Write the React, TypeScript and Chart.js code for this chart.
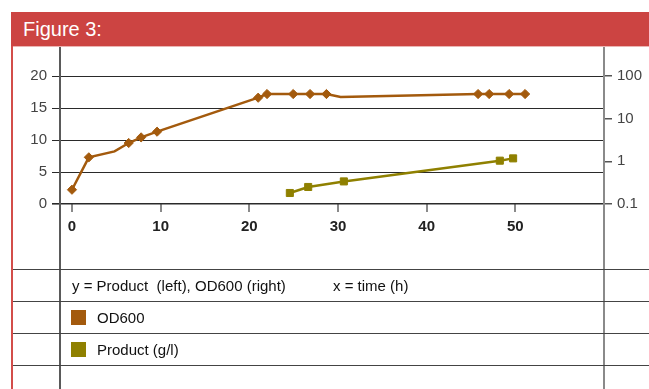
import React, { useEffect, useRef } from 'react';
import { Chart, registerables } from 'chart.js';

Chart.register(...registerables);

// ---- data ----
const odTime = [0, 1.9, 4.8, 6.4, 7.8, 9.6, 21.0, 22.0, 24.95, 26.85, 28.7, 30.3, 45.8, 47.05, 49.3, 51.1];
const odValue = [0.216, 1.24, 1.71, 2.69, 3.64, 4.95, 31.0, 37.8, 37.8, 37.8, 37.8, 32.2, 37.8, 37.8, 37.8, 37.8];
const odMarked = [1, 1, 0, 1, 1, 1, 1, 1, 1, 1, 1, 0, 1, 1, 1, 1];

const productTime = [24.57, 26.64, 30.66, 48.25, 49.75];
const productValue = [1.72, 2.66, 3.53, 6.77, 7.13];

const xTicks = [0, 10, 20, 30, 40, 50];
const leftTicks = [0, 5, 10, 15, 20];
const rightTicks = [0.1, 1, 10, 100];

const titleText = 'Figure 3:';
const axisNote = 'y = Product  (left), OD600 (right)';
const xNote = 'x = time (h)';
const seriesNames = ['OD600', 'Product (g/l)'];

const OD_COLOR = '#A35A0D';
const PRODUCT_COLOR = '#8F8000';
const FONT = '"Liberation Sans", Arial, Helvetica, sans-serif';

export default function App() {
  const canvasRef = useRef<HTMLCanvasElement | null>(null);

  useEffect(() => {
    const canvas = canvasRef.current;
    if (!canvas) return;
    const chart = new Chart(canvas, {
      type: 'line',
      data: {
        datasets: [
          {
            label: seriesNames[0],
            data: odTime.map((t, i) => ({ x: t, y: odValue[i] })),
            yAxisID: 'y2',
            borderColor: OD_COLOR,
            backgroundColor: OD_COLOR,
            borderWidth: 2.5,
            pointStyle: 'rectRot',
            pointRadius: odMarked.map((m) => (m ? 4.6 : 0)),
            pointBorderWidth: 1,
            pointBorderColor: OD_COLOR,
            pointBackgroundColor: OD_COLOR,
            tension: 0,
          },
          {
            label: seriesNames[1],
            data: productTime.map((t, i) => ({ x: t, y: productValue[i] })),
            yAxisID: 'y',
            borderColor: PRODUCT_COLOR,
            backgroundColor: PRODUCT_COLOR,
            borderWidth: 2.5,
            pointStyle: 'rect',
            pointRadius: 5,
            pointBorderWidth: 1,
            pointBorderColor: PRODUCT_COLOR,
            pointBackgroundColor: PRODUCT_COLOR,
            tension: 0,
          },
        ],
      },
      options: {
        responsive: false,
        animation: false,
        layout: { padding: { top: 30, left: 0, right: 0, bottom: 0 } },
        plugins: { legend: { display: false }, tooltip: { enabled: false } },
        scales: {
          x: {
            type: 'linear',
            min: -1.35,
            max: 60,
            afterBuildTicks: (s: any) => {
              s.ticks = xTicks.map((v) => ({ value: v }));
            },
            afterFit: (s: any) => {
              s.height = 64;
            },
            grid: { drawOnChartArea: false, drawTicks: true, tickLength: 8, color: '#8a8a8a', lineWidth: 2 },
            border: { display: false },
            ticks: {
              padding: 6,
              color: '#222',
              autoSkip: false,
              maxRotation: 0,
              font: { family: FONT, size: 15, weight: 'bold' },
            },
          },
          y: {
            type: 'linear',
            position: 'left',
            min: 0,
            max: 20,
            afterBuildTicks: (s: any) => {
              s.ticks = leftTicks.map((v) => ({ value: v }));
            },
            afterFit: (s: any) => {
              s.width = 60;
            },
            grid: {
              color: '#2a2a2a',
              lineWidth: (ctx: any) => (ctx.tick && ctx.tick.value === 0 ? 1.6 : 1),
              tickLength: 8,
            },
            border: { display: false },
            ticks: { padding: 5, color: '#444', font: { family: FONT, size: 15 } },
          },
          y2: {
            type: 'logarithmic',
            position: 'right',
            min: 0.1,
            max: 100,
            afterBuildTicks: (s: any) => {
              s.ticks = rightTicks.map((v) => ({ value: v }));
            },
            afterFit: (s: any) => {
              s.width = 45;
            },
            grid: { drawOnChartArea: false, tickLength: 8, color: '#555', lineWidth: 1.5 },
            border: { display: false },
            ticks: {
              padding: 5,
              color: '#444',
              font: { family: FONT, size: 15 },
              callback: (v: any) => String(Number(v)),
            },
          },
        },
      },
    } as any);
    return () => chart.destroy();
  }, []);

  const abs = (s: React.CSSProperties): React.CSSProperties => ({ position: 'absolute', ...s });
  const rowLines = [269, 301, 333, 365];

  return (
    <div style={abs({ left: 0, top: 0, width: 649, height: 389, overflow: 'hidden', background: '#fff', fontFamily: FONT })}>
      <div style={abs({ left: 11, top: 12, width: 638, height: 34, background: '#CC4442' })} />
      <span style={abs({ left: 23, top: 19, fontSize: 20, lineHeight: '20px', color: '#fff', whiteSpace: 'pre' })}>{titleText}</span>
      <div style={abs({ left: 11, top: 46, width: 638, height: 1, background: '#EBB5B3' })} />
      <canvas ref={canvasRef} width={649} height={222} style={abs({ left: 0, top: 46, width: 649, height: 222, display: 'block' })} />
      <div style={abs({ left: 11, top: 46, width: 2, height: 343, background: '#D34D4A' })} />
      <div style={abs({ left: 59, top: 47, width: 2, height: 342, background: '#5a5a5a' })} />
      <div style={abs({ left: 603, top: 47, width: 2, height: 342, background: '#8a8a8a' })} />
      {rowLines.map((y) => (
        <div key={y} style={abs({ left: 13, top: y, width: 636, height: 1, background: '#444' })} />
      ))}
      <div style={abs({ left: 0, top: 270, width: 649, height: 31, display: 'flex', alignItems: 'center' })}>
        <span style={abs({ left: 72, fontSize: 15, lineHeight: '15px', color: '#111', whiteSpace: 'pre' })}>{axisNote}</span>
        <span style={abs({ left: 333, fontSize: 15, lineHeight: '15px', color: '#111', whiteSpace: 'pre' })}>{xNote}</span>
      </div>
      {seriesNames.map((name, i) => (
        <div key={name} style={abs({ left: 0, top: 302 + i * 32, width: 649, height: 31, display: 'flex', alignItems: 'center' })}>
          <div style={abs({ left: 71, width: 15, height: 15, background: i === 0 ? OD_COLOR : PRODUCT_COLOR })} />
          <span style={abs({ left: 97, fontSize: 15, lineHeight: '15px', color: '#111', whiteSpace: 'pre' })}>{name}</span>
        </div>
      ))}
    </div>
  );
}
